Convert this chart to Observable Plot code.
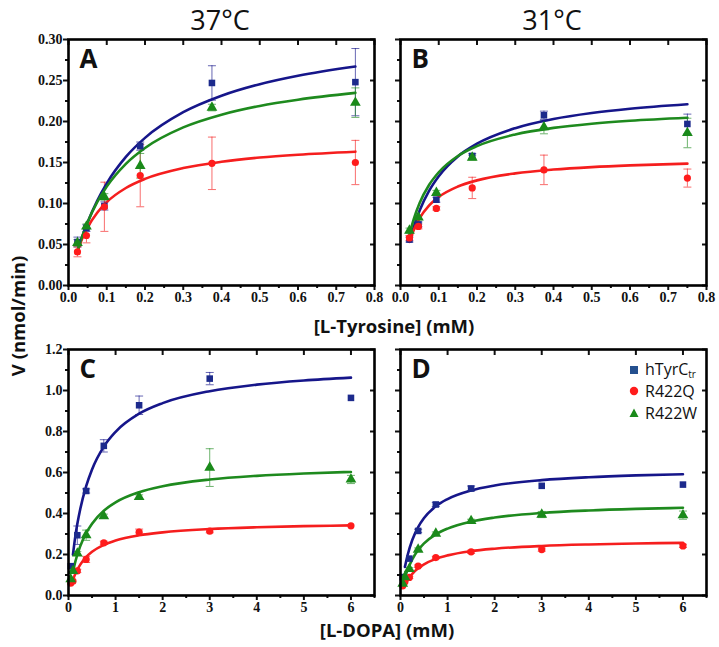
<!DOCTYPE html>
<html>
<head>
<meta charset="utf-8">
<script src="https://cdn.jsdelivr.net/npm/d3@7"></script>
<script src="https://cdn.jsdelivr.net/npm/@observablehq/plot@0.6"></script>
<style>
  html, body { margin: 0; padding: 0; background: #fff; }
  #fig { position: relative; width: 719px; height: 647px; background: #fff; overflow: hidden; }
  .lbl { position: absolute; white-space: nowrap; color: #111; }
  .title { font-family: "Open Sans", sans-serif; font-size: 27px; transform: translate(-50%, -50%); }
  .axlab { font-family: "Open Sans", sans-serif; font-weight: 700; font-size: 18.5px; transform: translate(-50%, -50%); }
  .legend { position: absolute; font-family: "Open Sans", sans-serif; font-size: 16px; color: #111; }
  .legend div { display: flex; align-items: center; height: 21.5px; }
  .legend svg { margin-right: 5px; }
  sub { font-size: 10px; vertical-align: -3px; }
</style>
</head>
<body>
<div id="fig"></div>
<script>
// ---------------- DATA ----------------
const seriesNames = ["hTyrCtr", "R422Q", "R422W"];

// L-Tyrosine concentrations (mM)
const tyrX = [0.0234, 0.0469, 0.0938, 0.1875, 0.375, 0.75];
// Panel A (37°C)
const A_hTyr  = [0.053, 0.070, 0.097, 0.170, 0.247, 0.248];
const A_hTyrE = [0.006, 0.004, 0.005, 0.005, 0.021, 0.041];
const A_Q     = [0.041, 0.061, 0.096, 0.134, 0.149, 0.150];
const A_QE    = [0.006, 0.009, 0.030, 0.038, 0.032, 0.027];
const A_W     = [0.052, 0.072, 0.108, 0.146, 0.217, 0.223];
const A_WE    = [0.004, 0.003, 0.004, 0.015, 0.004, 0.018];
// Panel B (31°C)
const B_hTyr  = [0.056, 0.0745, 0.1046, 0.158, 0.2076, 0.197];
const B_hTyrE = [0.003, 0.003, 0.003, 0.003, 0.005, 0.012];
const B_Q     = [0.058, 0.072, 0.094, 0.119, 0.141, 0.131];
const B_QE    = [0.003, 0.003, 0.002, 0.013, 0.018, 0.011];
const B_W     = [0.067, 0.083, 0.113, 0.156, 0.193, 0.186];
const B_WE    = [0.003, 0.003, 0.003, 0.003, 0.008, 0.018];

// fitted curves (tyrosine panels)
const tyrFitX = [0.0234, 0.035, 0.05, 0.075, 0.1, 0.15, 0.2, 0.3, 0.4, 0.5, 0.6, 0.75];
const A_fit_hTyr = [0.0413, 0.0582, 0.0771, 0.1034, 0.1246, 0.1568, 0.180, 0.2113, 0.2314, 0.2455, 0.2558, 0.267];
const A_fit_Q    = [0.042, 0.0563, 0.0709, 0.0888, 0.1017, 0.1189, 0.130, 0.1432, 0.1509, 0.156, 0.1595, 0.1632];
const A_fit_W    = [0.0425, 0.059, 0.0772, 0.1016, 0.1206, 0.1484, 0.1677, 0.1928, 0.2083, 0.219, 0.2266, 0.2349];
const B_fit_hTyr = [0.0533, 0.072, 0.0915, 0.1157, 0.1333, 0.1574, 0.1729, 0.1919, 0.2031, 0.2104, 0.2156, 0.2211];
const B_fit_Q    = [0.0532, 0.0681, 0.0821, 0.0977, 0.108, 0.1207, 0.1282, 0.1367, 0.1414, 0.1444, 0.1465, 0.1486];
const B_fit_W    = [0.062, 0.0814, 0.1005, 0.1228, 0.1381, 0.1579, 0.170, 0.1842, 0.1922, 0.1973, 0.2009, 0.2046];

// L-DOPA concentrations (mM)
const dopaX = [0.047, 0.094, 0.1875, 0.375, 0.75, 1.5, 3, 6];
// Panel C (37°C)
const C_hTyr  = [0.143, null, 0.294, 0.510, 0.730, 0.928, 1.058, 0.964];
const C_hTyrE = [0, 0, 0.045, 0.010, 0.030, 0.045, 0.030, 0];
const C_Q     = [0.060, 0.070, 0.120, 0.176, 0.257, 0.309, 0.314, 0.340];
const C_QE    = [0, 0, 0.008, 0.015, 0.008, 0.015, 0.008, 0];
const C_W     = [0.080, 0.120, 0.205, 0.294, 0.387, 0.481, 0.624, 0.566];
const C_WE    = [0, 0, 0.010, 0.025, 0.010, 0.010, 0.092, 0.020];
// Panel D (31°C)
const D_hTyr  = [0.090, null, 0.180, 0.315, 0.444, 0.522, 0.535, 0.541];
const D_hTyrE = [0, 0, 0, 0.008, 0.010, 0.012, 0, 0];
const D_Q     = [0.047, 0.067, 0.088, 0.143, 0.185, 0.213, 0.224, 0.242];
const D_QE    = [0, 0, 0.005, 0.006, 0.006, 0.008, 0.008, 0.008];
const D_W     = [0.058, 0.090, 0.130, 0.224, 0.302, 0.364, 0.395, 0.392];
const D_WE    = [0, 0, 0.006, 0.008, 0.008, 0.008, 0.015, 0.020];

// fitted curves (DOPA panels)
const dopaFitX = [0.094, 0.15, 0.25, 0.375, 0.5, 0.75, 1, 1.5, 2, 3, 4, 5, 6];
const C_fit_hTyr = [0.1989, 0.2969, 0.4215, 0.5334, 0.6151, 0.7264, 0.7986, 0.8868, 0.9385, 0.9968, 1.0287, 1.0488, 1.0627];
const C_fit_Q    = [0.0766, 0.1086, 0.1508, 0.1872, 0.2129, 0.2468, 0.2681, 0.2935, 0.3081, 0.3242, 0.3329, 0.3383, 0.342];
const C_fit_W    = [0.1138, 0.1697, 0.2407, 0.3043, 0.3505, 0.4135, 0.4542, 0.5039, 0.533, 0.5658, 0.5837, 0.595, 0.6028];
const D_fit_hTyr = [0.1397, 0.1966, 0.2708, 0.3338, 0.3777, 0.435, 0.4706, 0.5126, 0.5365, 0.5628, 0.577, 0.5858, 0.5918];
const D_fit_Q    = [0.0521, 0.0747, 0.1054, 0.1326, 0.1522, 0.1787, 0.1957, 0.2163, 0.2283, 0.2418, 0.2491, 0.2537, 0.2569];
const D_fit_W    = [0.0873, 0.125, 0.1762, 0.2215, 0.2542, 0.2982, 0.3264, 0.3606, 0.3805, 0.4027, 0.4148, 0.4225, 0.4277];

// ticks
const tyrTicks = [0, 0.1, 0.2, 0.3, 0.4, 0.5, 0.6, 0.7, 0.8];
const tyrMinor = [0.05, 0.15, 0.25, 0.35, 0.45, 0.55, 0.65, 0.75];
const vTyrTicks = [0, 0.05, 0.10, 0.15, 0.20, 0.25, 0.30];
const vTyrMinor = [0.025, 0.075, 0.125, 0.175, 0.225, 0.275];
const dopaTicks = [0, 1, 2, 3, 4, 5, 6];
const dopaMinor = [0.5, 1.5, 2.5, 3.5, 4.5, 5.5, 6.5];
const vDopaTicks = [0, 0.2, 0.4, 0.6, 0.8, 1.0, 1.2];
const vDopaMinor = [0.1, 0.3, 0.5, 0.7, 0.9, 1.1];

// ---------------- STYLE ----------------
const col = {hTyrCtr: "#16168a", R422Q: "#f51e1e", R422W: "#1e8a1e"};
const dotCol = {hTyrCtr: "#1c2a8c", R422Q: "#ff1c1c", R422W: "#1a8a1a"};
const sym = {hTyrCtr: "square", R422Q: "circle", R422W: "triangle"};
const rad = {hTyrCtr: 3.7, R422Q: 3.6, R422W: 4.0};
const capSymbol = {draw(ctx) { ctx.moveTo(-4, 0); ctx.lineTo(4, 0); }};

function pts(xs, ys, es, s) {
  return xs.map((x, i) => ({x, y: ys[i], e: es[i], s})).filter(d => d.y != null);
}
function fit(xs, ys, s) { return xs.map((x, i) => ({x, y: ys[i], s})); }

const fig = document.getElementById("fig");

function panel(cfg) {
  const mL = 52, mR = 14, mT = 14, mB = 34;
  const W = cfg.fw + mL + mR, H = cfg.fh + mT + mB;
  const points = cfg.points;
  const errs = points.filter(d => d.e > 0);
  const marks = [];
  // error bars
  for (const s of seriesNames) {
    const e = errs.filter(d => d.s === s);
    marks.push(Plot.ruleX(e, {x: "x", y1: d => d.y - d.e, y2: d => d.y + d.e, stroke: col[s], strokeOpacity: 0.65, strokeWidth: 1}));
    marks.push(Plot.dot(e, {x: "x", y: d => d.y + d.e, symbol: capSymbol, stroke: col[s], strokeOpacity: 0.65, strokeWidth: 1, fill: "none"}));
    marks.push(Plot.dot(e, {x: "x", y: d => d.y - d.e, symbol: capSymbol, stroke: col[s], strokeOpacity: 0.65, strokeWidth: 1, fill: "none"}));
  }
  // fitted curves
  for (const s of seriesNames) {
    marks.push(Plot.line(cfg.fits.filter(d => d.s === s), {x: "x", y: "y", stroke: col[s], strokeWidth: 2.6, curve: "monotone-x"}));
  }
  // data points
  for (const s of seriesNames) {
    marks.push(Plot.dot(points.filter(d => d.s === s), {x: "x", y: "y", symbol: sym[s], r: rad[s], fill: dotCol[s], stroke: "none"}));
  }
  // axes
  const tf = cfg.yLabels ? (d => d.toFixed(cfg.yDec)) : (() => "");
  marks.push(
    Plot.axisX(cfg.xTicks, {anchor: "bottom", tickSize: 5, tickPadding: 2, strokeWidth: 2, tickFormat: d => cfg.xDec == null ? String(d) : d.toFixed(cfg.xDec), label: null}),
    Plot.axisX(cfg.xMinor, {anchor: "bottom", tickSize: 3, strokeWidth: 2, tickFormat: () => "", label: null}),
    Plot.axisX(cfg.xTicks, {anchor: "top", tickSize: 5, dy: 5, strokeWidth: 2, tickFormat: () => "", label: null}),
    Plot.axisY(cfg.yTicks, {anchor: "left", tickSize: 5, tickPadding: 1, strokeWidth: 2, tickFormat: tf, label: null}),
    Plot.axisY(cfg.yMinor, {anchor: "left", tickSize: 3, strokeWidth: 2, tickFormat: () => "", label: null}),
    Plot.axisY(cfg.yTicks, {anchor: "right", tickSize: 5, dx: -5, strokeWidth: 2, tickFormat: () => "", label: null}),
    Plot.frame({stroke: "#000", strokeWidth: 2.6}),
    Plot.text([cfg.letter], {frameAnchor: "top-left", dx: 11, dy: 10, text: d => d, textAnchor: "start", lineAnchor: "top",
      fontFamily: "Open Sans, sans-serif", fontWeight: 700, fontSize: 26, fill: "#111"})
  );
  const svg = Plot.plot({
    width: W, height: H,
    marginLeft: mL, marginRight: mR, marginTop: mT, marginBottom: mB,
    x: {type: "linear", domain: cfg.xDomain},
    y: {type: "linear", domain: cfg.yDomain},
    style: {fontFamily: "Liberation Serif, serif", fontWeight: "bold", fontSize: "14px", color: "#111", background: "transparent", overflow: "visible", maxWidth: "none"},
    marks
  });
  svg.style.position = "absolute";
  svg.style.left = (cfg.fl - mL) + "px";
  svg.style.top = (cfg.ft - mT) + "px";
  fig.appendChild(svg);
}

const tyrPoints = (h, he, q, qe, w, we) => [...pts(tyrX, h, he, "hTyrCtr"), ...pts(tyrX, q, qe, "R422Q"), ...pts(tyrX, w, we, "R422W")];
const dopaPoints = (h, he, q, qe, w, we) => [...pts(dopaX, h, he, "hTyrCtr"), ...pts(dopaX, q, qe, "R422Q"), ...pts(dopaX, w, we, "R422W")];

const tyrCommon = {xDomain: [0, 0.8], yDomain: [0, 0.30], xTicks: tyrTicks, xMinor: tyrMinor, yTicks: vTyrTicks, yMinor: vTyrMinor, xDec: 1, yDec: 2, fw: 306, fh: 246};
const dopaCommon = {xDomain: [0, 6.5], yDomain: [0, 1.2], xTicks: dopaTicks, xMinor: dopaMinor, yTicks: vDopaTicks, yMinor: vDopaMinor, xDec: null, yDec: 1, fw: 306, fh: 246};

panel({...tyrCommon, fl: 68, ft: 39, yLabels: true, letter: "A",
  points: tyrPoints(A_hTyr, A_hTyrE, A_Q, A_QE, A_W, A_WE),
  fits: [...fit(tyrFitX, A_fit_hTyr, "hTyrCtr"), ...fit(tyrFitX, A_fit_Q, "R422Q"), ...fit(tyrFitX, A_fit_W, "R422W")]});
panel({...tyrCommon, fl: 400, ft: 39, yLabels: false, letter: "B",
  points: tyrPoints(B_hTyr, B_hTyrE, B_Q, B_QE, B_W, B_WE),
  fits: [...fit(tyrFitX, B_fit_hTyr, "hTyrCtr"), ...fit(tyrFitX, B_fit_Q, "R422Q"), ...fit(tyrFitX, B_fit_W, "R422W")]});
panel({...dopaCommon, fl: 68, ft: 349, yLabels: true, letter: "C",
  points: dopaPoints(C_hTyr, C_hTyrE, C_Q, C_QE, C_W, C_WE),
  fits: [...fit(dopaFitX, C_fit_hTyr, "hTyrCtr"), ...fit(dopaFitX, C_fit_Q, "R422Q"), ...fit(dopaFitX, C_fit_W, "R422W")]});
panel({...dopaCommon, fl: 400, ft: 349, yLabels: false, letter: "D",
  points: dopaPoints(D_hTyr, D_hTyrE, D_Q, D_QE, D_W, D_WE),
  fits: [...fit(dopaFitX, D_fit_hTyr, "hTyrCtr"), ...fit(dopaFitX, D_fit_Q, "R422Q"), ...fit(dopaFitX, D_fit_W, "R422W")]});

// ---------------- TEXT ----------------
function label(text, cls, x, y, rot) {
  const d = document.createElement("div");
  d.className = "lbl " + cls;
  d.textContent = text;
  d.style.left = x + "px";
  d.style.top = y + "px";
  if (rot) d.style.transform = "translate(-50%, -50%) rotate(-90deg)";
  fig.appendChild(d);
}
label("37°C", "title", 220, 19);
label("31°C", "title", 552, 19);
label("[L-Tyrosine] (mM)", "axlab", 394, 325);
label("[L-DOPA] (mM)", "axlab", 387, 629);
label("V (nmol/min)", "axlab", 17, 316, true);

// legend (panel D)
const leg = document.createElement("div");
leg.className = "legend";
leg.style.left = "628px";
leg.style.top = "359px";
const legMarks = {
  hTyrCtr: '<svg width="12" height="12"><rect x="2" y="2" width="8" height="8" fill="#24508f"/></svg>',
  R422Q: '<svg width="12" height="12"><circle cx="6" cy="6" r="4.2" fill="#ff1c1c"/></svg>',
  R422W: '<svg width="12" height="12"><polygon points="6,1.5 10.5,10 1.5,10" fill="#1a8a1a"/></svg>'
};
const legText = {hTyrCtr: 'hTyrC<sub>tr</sub>', R422Q: 'R422Q', R422W: 'R422W'};
leg.innerHTML = seriesNames.map(s => `<div>${legMarks[s]}<span>${legText[s]}</span></div>`).join("");
fig.appendChild(leg);
</script>
</body>
</html>
